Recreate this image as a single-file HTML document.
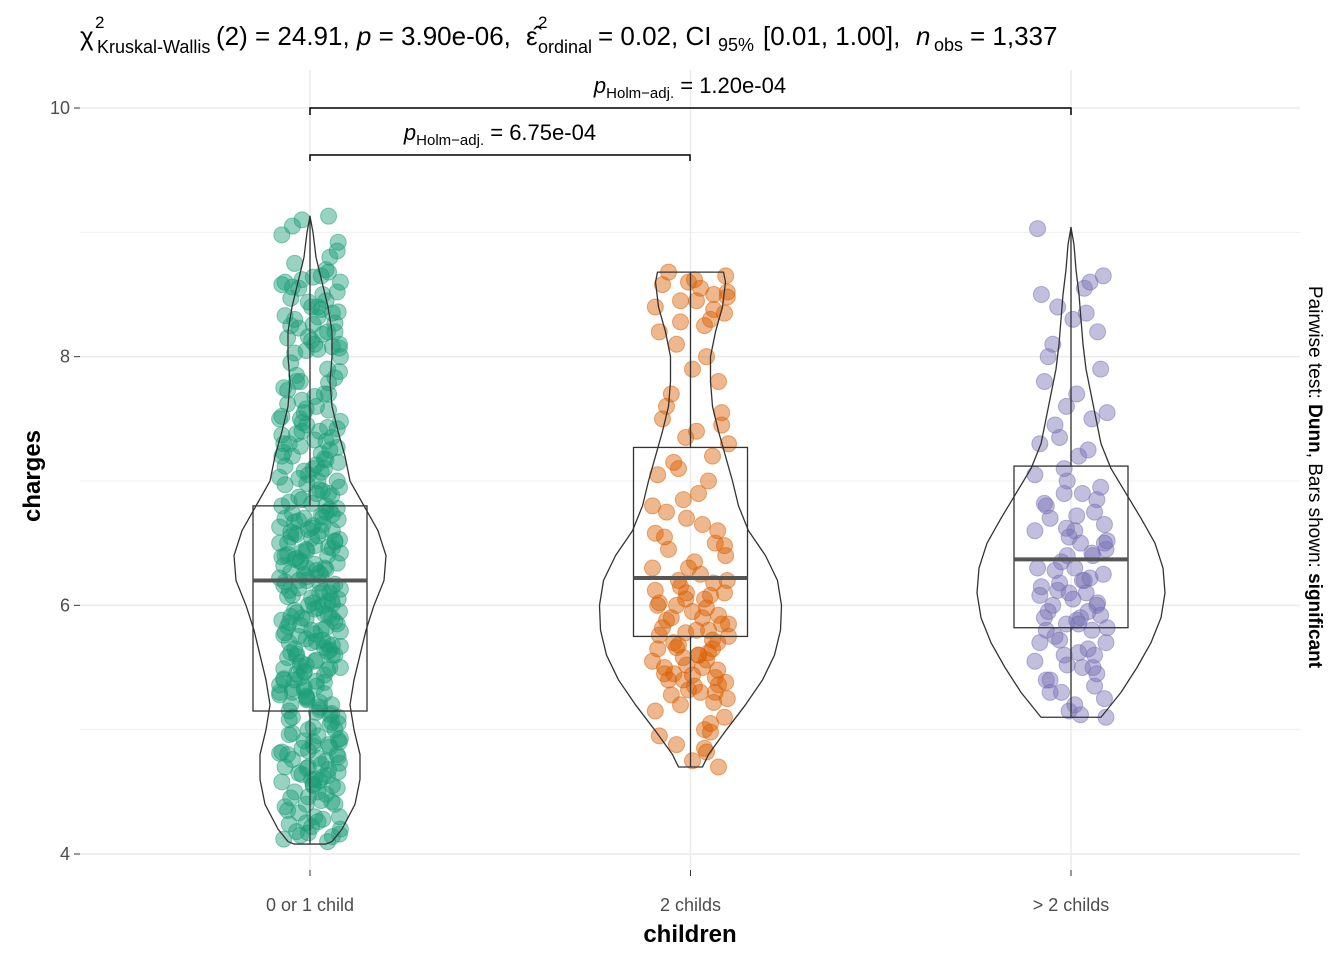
<!DOCTYPE html>
<html><head><meta charset="utf-8"><style>
body{margin:0;background:#fff;font-family:"Liberation Sans",sans-serif}
svg text{font-family:"Liberation Sans",sans-serif}
</style></head><body>
<svg id="c" width="1344" height="960" xmlns="http://www.w3.org/2000/svg">
<g id="grid"></g>
<g id="plot"></g>
<g id="axes"></g>
<g font-size="26">
<text x="80" y="45">χ</text>
<text x="95" y="28" font-size="17">2</text>
<text x="97" y="53" font-size="18">Kruskal-Wallis</text>
<text x="216" y="45">(2) = 24.91, <tspan font-style="italic">p</tspan> = 3.90e-06,</text>
<text x="526" y="45">ε̂</text>
<text x="538" y="28" font-size="17">2</text>
<text x="538" y="53" font-size="18">ordinal</text>
<text x="598" y="45">= 0.02, CI</text>
<text x="718" y="51" font-size="18">95%</text>
<text x="763" y="45">[0.01, 1.00],</text>
<text x="916" y="45" font-style="italic">n</text>
<text x="934" y="51" font-size="18">obs</text>
<text x="970" y="45">= 1,337</text>
</g>
<text x="40" y="476" font-size="24" font-weight="bold" transform="rotate(-90 40 476)" text-anchor="middle">charges</text>
<text x="690" y="942" font-size="24" font-weight="bold" text-anchor="middle">children</text>
<text x="1309" y="477" font-size="19" transform="rotate(90 1309 477)" text-anchor="middle">Pairwise test: <tspan font-weight="bold">Dunn</tspan>, Bars shown: <tspan font-weight="bold">significant</tspan></text>
<g>
<path d="M310 115V108H1071V115" fill="none" stroke="#000" stroke-width="1.5"/>
<text x="690" y="93" font-size="22" text-anchor="middle"><tspan font-style="italic">p</tspan><tspan font-size="15" dy="5">Holm−adj.</tspan><tspan dy="-5"> = 1.20e-04</tspan></text>
</g>
<g>
<path d="M310 161V155H690V161" fill="none" stroke="#000" stroke-width="1.5"/>
<text x="500" y="140" font-size="22" text-anchor="middle"><tspan font-style="italic">p</tspan><tspan font-size="15" dy="5">Holm−adj.</tspan><tspan dy="-5"> = 6.75e-04</tspan></text>
</g>
</svg>
<script>
const categories=["0 or 1 child","2 childs","> 2 childs"];
const colors=["#1b9e77","#d95f02","#7570b3"];
const yTicks=[4,6,8,10];
const yMinor=[5,7,9];
const boxQ1=[5.15,5.75,5.82];
const boxMedian=[6.2,6.22,6.37];
const boxQ3=[6.8,7.27,7.12];
const boxMin=[4.08,4.7,5.1];
const boxMax=[9.13,8.68,9.04];
const violinY1=[4.08,4.1,4.2,4.4,4.6,4.8,5.0,5.2,5.4,5.6,5.8,6.0,6.2,6.4,6.6,6.8,7.0,7.2,7.4,7.6,7.8,8.0,8.2,8.4,8.6,8.8,9.0,9.13];
const violinW1=[16,22,32,45,50,50,44,40,44,50,56,64,74,76,68,54,40,35,28,22,20,22,22,18,12,6,3,0];
const violinY2=[4.7,4.8,5.0,5.2,5.4,5.6,5.8,6.0,6.2,6.4,6.6,6.8,7.0,7.2,7.4,7.6,7.8,8.0,8.2,8.4,8.6,8.68];
const violinW2=[12,18,36,55,72,84,90,91,87,75,58,48,42,35,28,22,20,20,25,32,35,33];
const violinY3=[5.1,5.3,5.5,5.7,5.9,6.1,6.3,6.5,6.7,6.9,7.1,7.3,7.5,7.7,7.9,8.1,8.3,8.5,8.7,8.9,9.04];
const violinW3=[30,50,66,80,90,94,92,84,70,55,40,30,25,20,15,12,10,8,5,3,0];
const g1=[4.12,4.15,4.18,4.1,4.2,4.25,4.3,4.35,4.4,4.45,4.5,4.55,4.6,4.62,4.65,4.7,4.72,4.75,4.8,4.82,4.85,4.88,4.9,4.95,5.0,5.02,5.05,5.1,5.12,5.15,5.2,5.22,5.25,5.3,5.32,5.35,5.38,5.4,5.42,5.45,5.48,5.5,5.52,5.55,5.58,5.6,5.62,5.65,5.68,5.7,5.72,5.75,5.78,5.8,5.82,5.85,5.88,5.9,5.92,5.95,5.98,6.0,6.02,6.05,6.08,6.1,6.12,6.15,6.18,6.2,6.22,6.25,6.28,6.3,6.32,6.35,6.38,6.4,6.42,6.45,6.48,6.5,6.52,6.55,6.58,6.6,6.62,6.65,6.68,6.7,6.72,6.75,6.78,6.8,6.85,6.9,6.95,7.0,7.05,7.1,7.15,7.2,7.25,7.3,7.35,7.4,7.45,7.5,7.55,7.6,7.7,7.75,7.8,7.85,7.9,8.0,8.05,8.1,8.15,8.2,8.25,8.3,8.35,8.4,8.5,8.55,8.6,8.65,8.7,8.85,8.98,9.1,9.13,4.3,4.5,4.7,4.9,5.1,5.3,5.5,5.7,5.9,6.1,6.3,6.5,6.7,6.9,7.1,7.3,7.5,7.8,8.2,8.6,4.4,4.6,4.8,5.0,5.2,5.4,5.6,5.8,6.0,6.2,6.4,6.6,6.8,7.0,7.2,7.4,7.7,8.1,8.4,4.17,4.55,4.78,5.33,5.64,5.86,6.04,6.26,6.44,6.63,5.47,5.71,5.93,6.16,6.36,6.57,4.63,4.93,5.27,7.33,7.62,8.27,8.47,8.75,
4.14,4.22,4.28,4.33,4.38,4.43,4.48,4.53,4.58,4.64,4.68,4.73,4.77,4.83,4.87,4.92,4.97,5.04,5.08,5.13,5.18,5.24,5.28,5.34,5.39,5.44,5.49,5.54,5.59,5.63,5.67,5.73,5.77,5.83,5.87,5.91,5.96,6.01,6.06,6.11,6.14,6.19,6.24,6.29,6.34,6.39,6.43,6.47,6.53,6.56,6.61,6.64,6.69,6.74,6.77,6.83,6.88,6.93,6.98,7.03,7.08,7.13,7.18,7.23,7.28,7.38,7.43,7.48,7.58,7.68,7.73,7.83,7.95,8.03,8.08,8.13,8.18,8.23,8.33,8.38,8.45,8.52,8.58,8.62,8.68,
4.16,4.26,4.46,4.56,4.66,4.76,4.86,4.96,5.06,5.16,5.26,5.36,5.46,5.56,5.66,5.76,5.84,5.94,6.03,6.13,6.23,6.33,6.41,6.51,6.59,6.67,6.73,6.82,6.92,7.02,7.12,7.22,7.32,7.42,7.52,7.65,7.79,7.88,8.06,8.16,8.26,8.36,8.56,8.8,
4.24,4.42,4.59,4.69,4.81,4.91,5.14,5.29,5.41,5.51,5.61,5.69,5.79,5.89,5.97,6.07,6.17,6.27,6.37,6.46,6.54,6.71,6.87,6.97,7.07,7.17,7.27,7.37,7.47,7.57,8.07,8.32,8.44,8.64,8.92,9.05];
const g2=[4.7,4.75,4.82,4.88,4.95,5.0,5.05,5.1,5.15,5.2,5.22,5.25,5.3,5.32,5.35,5.38,5.4,5.42,5.45,5.48,5.5,5.52,5.55,5.58,5.6,5.62,5.65,5.68,5.7,5.72,5.75,5.78,5.8,5.82,5.85,5.88,5.9,5.92,5.95,5.98,6.0,6.02,6.05,6.08,6.1,6.12,6.15,6.18,6.2,6.25,6.3,6.35,6.4,6.45,6.5,6.55,6.6,6.65,6.7,6.8,6.85,6.9,7.0,7.05,7.1,7.15,7.2,7.3,7.35,7.4,7.5,7.55,7.6,7.7,7.8,7.9,8.0,8.1,8.2,8.25,8.3,8.35,8.4,8.45,8.5,8.52,8.55,8.6,8.62,8.65,8.68,5.3,5.5,5.7,5.9,6.1,6.3,5.4,5.6,5.8,6.0,6.2,5.45,5.65,5.85,6.05,8.45,8.58,7.45,6.75,5.28,5.36,5.44,5.56,5.66,5.76,4.85,4.98,6.48,6.58,8.28,8.38,8.48];
const g3=[5.1,5.12,5.15,5.2,5.25,5.3,5.35,5.4,5.45,5.5,5.52,5.55,5.6,5.62,5.65,5.7,5.72,5.75,5.8,5.82,5.85,5.88,5.9,5.92,5.95,6.0,6.02,6.05,6.1,6.12,6.15,6.2,6.22,6.25,6.3,6.35,6.4,6.45,6.5,6.55,6.6,6.65,6.7,6.75,6.8,6.85,6.9,7.0,7.05,7.1,7.2,7.25,7.3,7.35,7.45,7.5,7.55,7.6,7.7,7.8,7.9,8.0,8.1,8.2,8.3,8.35,8.4,8.5,8.55,8.6,8.65,9.03,5.3,5.5,5.7,5.9,6.1,6.3,6.5,5.4,5.6,5.8,6.0,6.2,6.4,6.6,6.9,5.85,5.95,6.08,6.18,6.28,6.42,6.52,6.62,6.72,6.82,6.95];
const jitter=[-0.82,0.35,-0.1,0.7,-0.55,0.15,0.92,-0.3,0.5,-0.95,0.05,0.62,-0.7,0.25,-0.42,0.85,-0.18,0.4,-0.65,0.78,-0.05,0.55,-0.88,0.2,-0.35,0.68,-0.6,0.1,0.95,-0.25,0.45,-0.78,0.3,-0.48,0.88,-0.12,0.58];
const NS="http://www.w3.org/2000/svg";
const X0=80,X1=1300;
const xPos=i=>310+i*380.5;
const yS=v=>854-(v-4)*124.33;
function mk(t,a,p){const e=document.createElementNS(NS,t);for(const k in a)e.setAttribute(k,a[k]);p.appendChild(e);return e;}
const grid=document.getElementById('grid'),plot=document.getElementById('plot'),axes=document.getElementById('axes');
yMinor.forEach(v=>{const l=mk('line',{x1:X0,x2:X1,y1:yS(v),y2:yS(v),stroke:'#f0f0f0','stroke-width':1},grid);});
yTicks.forEach(v=>{const l=mk('line',{x1:X0,x2:X1,y1:yS(v),y2:yS(v),stroke:'#ebebeb','stroke-width':1.5},grid);
const t=mk('line',{x1:74,x2:80,y1:yS(v),y2:yS(v),stroke:'#333'},axes);
const tx=mk('text',{x:70,y:yS(v)+6,'text-anchor':'end','font-size':18,fill:'#4d4d4d'},axes);tx.textContent=v;});
categories.forEach((c,i)=>{const l=mk('line',{x1:xPos(i),x2:xPos(i),y1:70,y2:870,stroke:'#ebebeb','stroke-width':1.5},grid);
const t=mk('line',{x1:xPos(i),x2:xPos(i),y1:870,y2:876,stroke:'#333'},axes);
const tx=mk('text',{x:xPos(i),y:911,'text-anchor':'middle','font-size':18,fill:'#4d4d4d'},axes);tx.textContent=c;});
const groups=[g1,g2,g3],spread=[32,40,38];
groups.forEach((g,i)=>{const gg=mk('g',{},plot);
g.forEach((v,k)=>{const c=mk('circle',{cx:xPos(i)+jitter[(k*7+i*3)%jitter.length]*spread[i],cy:yS(v),r:8,fill:colors[i],'fill-opacity':0.45,stroke:colors[i],'stroke-opacity':0.5},gg);});});
const vy=[violinY1,violinY2,violinY3],vw=[violinW1,violinW2,violinW3];
vy.forEach((ys,i)=>{const cx=xPos(i);let d='';ys.forEach((v,k)=>{d+=(k?'L':'M')+(cx+vw[i][k])+' '+yS(v);});for(let k=ys.length-1;k>=0;k--)d+='L'+(cx-vw[i][k])+' '+yS(ys[k]);d+='Z';
const p=mk('path',{d:d,fill:'none',stroke:'#333','stroke-width':1.3,'stroke-linejoin':'round'},plot);});
categories.forEach((c,i)=>{const cx=xPos(i),w=57;const g=mk('g',{},plot);
mk('line',{x1:cx,x2:cx,y1:yS(boxMax[i]),y2:yS(boxQ3[i]),stroke:'#333','stroke-width':1.3},g);
mk('line',{x1:cx,x2:cx,y1:yS(boxQ1[i]),y2:yS(boxMin[i]),stroke:'#333','stroke-width':1.3},g);
mk('rect',{x:cx-w,y:yS(boxQ3[i]),width:2*w,height:yS(boxQ1[i])-yS(boxQ3[i]),fill:'none',stroke:'#333','stroke-width':1.3},g);
mk('line',{x1:cx-w,x2:cx+w,y1:yS(boxMedian[i]),y2:yS(boxMedian[i]),stroke:'#555','stroke-width':4},g);});
</script>
</body></html>
